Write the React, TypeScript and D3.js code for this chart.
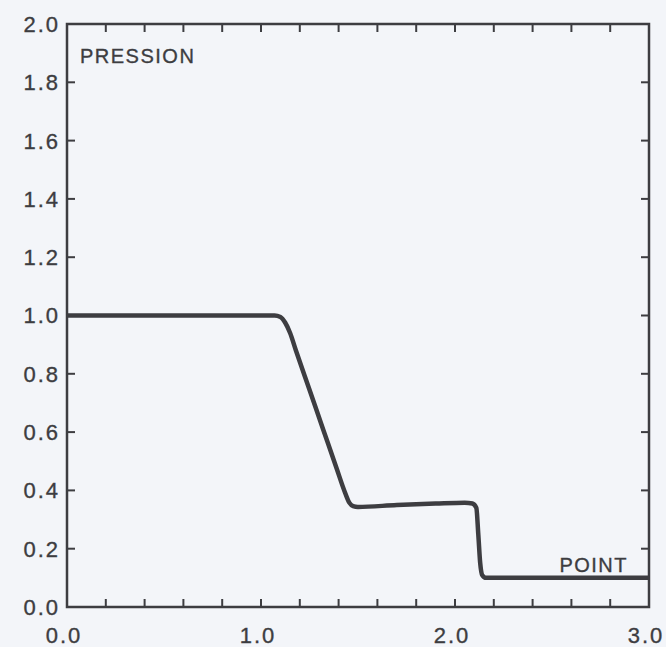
import React from "react";
import * as d3 from "d3";

const xPos = [0, 1.07, 1.1, 1.125, 1.15, 1.18, 1.25, 1.32, 1.39, 1.43, 1.455, 1.475, 1.5, 1.7, 1.9, 2.05, 2.09, 2.11, 2.12, 2.13, 2.14, 2.16, 2.2, 3.0];
const pressure = [1.0, 1.0, 0.995, 0.975, 0.94, 0.88, 0.745, 0.61, 0.475, 0.398, 0.358, 0.346, 0.343, 0.35, 0.355, 0.358, 0.355, 0.34, 0.25, 0.15, 0.11, 0.1, 0.1, 0.1];
const xMajor = [0, 1, 2, 3];
const yTicks = [0, 0.2, 0.4, 0.6, 0.8, 1.0, 1.2, 1.4, 1.6, 1.8, 2.0];
const xMinor = d3.range(0, 3.0001, 0.2);
const yLabel = "PRESSION";
const xLabel = "POINT";

const W = 666, H = 647;
const L = 67, R = 649, T = 24, B = 607;
const INK = "#3d3d41";
const FONT = "'Liberation Sans', 'DejaVu Sans', sans-serif";

export default function App() {
  const x = d3.scaleLinear().domain([0, 3]).range([L, R]);
  const y = d3.scaleLinear().domain([0, 2]).range([B, T]);
  const line = d3.line<number>().x((_, i) => x(xPos[i])).y((d) => y(d)).curve(d3.curveMonotoneX);
  const tl = 8;
  const txt = { fontFamily: FONT, fill: INK, stroke: INK, strokeWidth: 0.35 } as const;
  return (
    <svg width={W} height={H} style={{ position: "fixed", left: 0, top: 0, background: "#f3f5f9" }}>
      <rect x={0} y={0} width={W} height={H} fill="#f3f5f9" />
      {xMinor.slice(1, -1).map((v, i) => (
        <g key={"xt" + i} stroke={INK} strokeWidth={2}>
          <line x1={x(v)} x2={x(v)} y1={B} y2={B - tl} />
          <line x1={x(v)} x2={x(v)} y1={T} y2={T + tl} />
        </g>
      ))}
      {yTicks.slice(1, -1).map((v, i) => (
        <g key={"yt" + i} stroke={INK} strokeWidth={2}>
          <line x1={L} x2={L + tl} y1={y(v)} y2={y(v)} />
          <line x1={R} x2={R - tl} y1={y(v)} y2={y(v)} />
        </g>
      ))}
      <rect x={L} y={T} width={R - L} height={B - T} fill="none" stroke={INK} strokeWidth={2.5} />
      <path d={line(pressure) || ""} fill="none" stroke={INK} strokeWidth={4.5} strokeLinejoin="round" />
      {yTicks.map((v, i) => (
        <text key={"yl" + i} x={L - 7} y={y(v)} dy="0.36em" textAnchor="end" fontSize={22} letterSpacing={2} {...txt}>
          {v.toFixed(1)}
        </text>
      ))}
      {xMajor.map((v, i) => (
        <text key={"xl" + i} x={x(v) - 3} y={643} textAnchor="middle" fontSize={22} letterSpacing={2} {...txt}>
          {v.toFixed(1)}
        </text>
      ))}
      <text x={80} y={63} fontSize={20} letterSpacing={1.5} {...txt}>{yLabel}</text>
      <text x={628} y={572} textAnchor="end" fontSize={20} letterSpacing={1.5} {...txt}>{xLabel}</text>
    </svg>
  );
}
